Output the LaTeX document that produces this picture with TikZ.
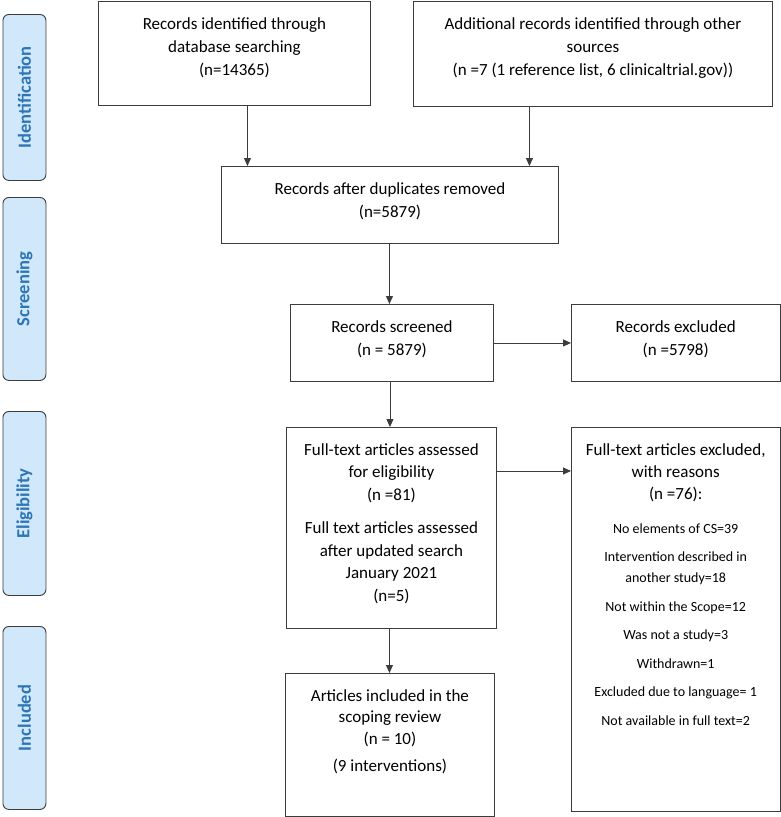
\documentclass[tikz,border=0pt]{standalone}
\usepackage{fontspec}
\setmainfont{Carlito}
\usetikzlibrary{arrows.meta}
\definecolor{lineg}{HTML}{3C3C3C}
\definecolor{sidefill}{HTML}{D0E8FA}
\definecolor{sidetext}{HTML}{2E75B6}
\newcommand\bxt[4][23]{\begin{minipage}[t][#3pt][t]{#2pt}\centering\fontsize{17}{#1}\selectfont\vspace*{16pt}#4\end{minipage}}
\newcommand\sidetxt[1]{\rotatebox{90}{\color{sidetext}\bfseries\fontsize{18.5}{20}\selectfont #1}}
\begin{document}
\begin{tikzpicture}[x=1pt,y=-1pt,
  flow/.style={draw=lineg, line width=0.9pt, inner sep=0pt, anchor=north west},
  side/.style={draw=lineg, fill=sidefill, line width=0.9pt, rounded corners=6pt, minimum width=43pt, anchor=north west, inner sep=0pt},
  arr/.style={draw=lineg, line width=0.9pt, -{Triangle[length=8pt,width=7pt]}}]
\useasboundingbox (0,0) rectangle (781,817);
% side labels
\node[side, minimum height=166pt] (s1) at (2.5,14) {\sidetxt{Identification}};
\node[side, minimum height=183pt] (s2) at (2.5,197) {\sidetxt{Screening}};
\node[side, minimum height=184pt] (s3) at (2.5,411) {\sidetxt{Eligibility}};
\node[side, minimum height=183pt] (s4) at (2.5,626) {\sidetxt{Included}};
% boxes
\node[flow] (a) at (98,1) {\bxt{272}{104}{Records identified through\\database searching\\(n=14365)}};
\node[flow] (b) at (413,1) {\bxt{359}{105}{Additional records identified through other\\sources\\(n =7 (1 reference list, 6 clinicaltrial.gov))}};
\node[flow] (c) at (221,166) {\bxt{337}{77}{Records after duplicates removed\\(n=5879)}};
\node[flow] (d) at (290,304) {\bxt{203}{77}{Records screened\\(n = 5879)}};
\node[flow] (e) at (571,304) {\bxt{208.5}{77}{Records excluded\\(n =5798)}};
\node[flow] (f) at (286,427) {\bxt[22.5]{210}{201}{Full-text articles assessed\\for eligibility\\(n =81)\par\vspace{11pt}Full text articles assessed\\after updated search\\January 2021\\(n=5)}};
\node[flow] (g) at (571,427) {\bxt[22]{208.5}{384}{Full-text articles excluded,\\with reasons\\(n =76):\par\fontsize{14}{21}\selectfont\vspace{13pt}No elements of CS=39\par\vspace{7.5pt}Intervention described in\\another study=18\par\vspace{7.5pt}Not within the Scope=12\par\vspace{7.5pt}Was not a study=3\par\vspace{7.5pt}Withdrawn=1\par\vspace{7.5pt}Excluded due to language= 1\par\vspace{7.5pt}Not available in full text=2}};
\node[flow] (h) at (285,673) {\bxt[21.5]{209}{143}{Articles included in the\\scoping review\\(n = 10)\par\vspace{5.5pt}(9 interventions)}};
% connectors
\draw[arr] ([xshift=13pt]a.south) -- ([xshift=13pt]a.south |- c.north);
\draw[arr] ([xshift=-63.5pt]b.south) -- ([xshift=-63.5pt]b.south |- c.north);
\draw[arr] ([xshift=-0.5pt]c.south) -- ([xshift=-0.5pt]c.south |- d.north);
\draw[arr] (d.east) -- (d.east -| e.west);
\draw[arr] ([xshift=-2pt]d.south) -- ([xshift=-2pt]d.south |- f.north);
\draw[arr] ([yshift=-44pt]f.north east) -- ([yshift=-44pt]f.north east -| g.west);
\draw[arr] ([xshift=-2pt]f.south) -- ([xshift=-2pt]f.south |- h.north);
\end{tikzpicture}
\end{document}
